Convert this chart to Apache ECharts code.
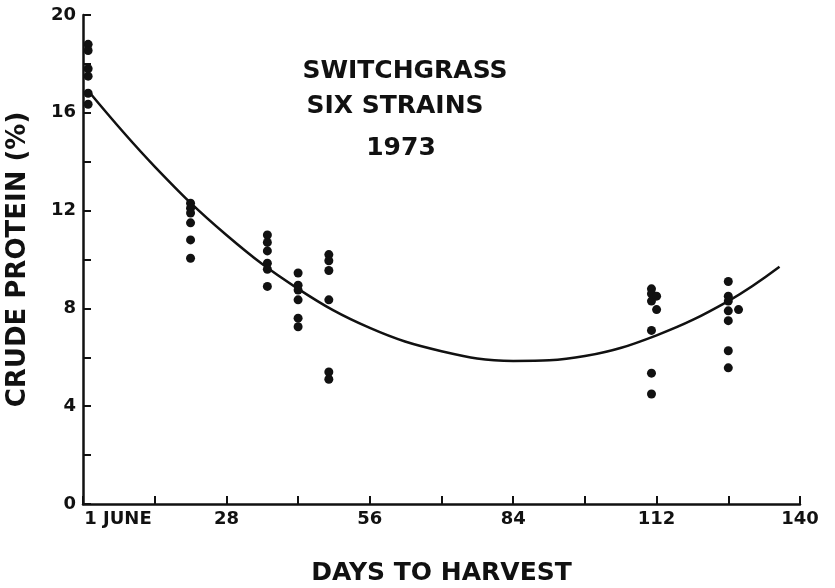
<!DOCTYPE html>
<html>
<head>
<meta charset="utf-8">
<script src="https://cdn.jsdelivr.net/npm/echarts@6/dist/echarts.min.js"></script>
<style>
  html, body { margin: 0; padding: 0; background: #fff; }
  #chart { width: 835px; height: 588px; }
</style>
</head>
<body>
<div id="chart"></div>
<script>
// days after 1 June, one entry per plotted strain value
const pointDays = [
  1, 1, 1, 1, 1, 1,
  21, 21, 21, 21, 21, 21,
  36, 36, 36, 36, 36, 36,
  42, 42, 42, 42, 42, 42,
  48, 48, 48, 48, 48, 48,
  111, 111, 111, 111, 111, 111, 112, 112,
  126, 126, 126, 126, 126, 126, 126, 128
];
const pointProtein = [
  18.8, 18.55, 17.8, 17.5, 16.8, 16.35,
  12.3, 12.1, 11.9, 11.5, 10.8, 10.05,
  11.0, 10.7, 10.35, 9.85, 9.6, 8.9,
  9.45, 8.95, 8.75, 8.35, 7.6, 7.25,
  10.2, 9.95, 9.55, 8.35, 5.4, 5.1,
  8.8, 8.6, 8.3, 7.1, 5.35, 4.5, 8.5, 7.95,
  9.1, 8.5, 8.3, 7.9, 7.5, 6.27, 5.57, 7.95
];
// fitted curve
const curveDays = [1, 14, 28, 42, 56, 70, 84, 98, 112, 126, 136];
const curveProtein = [16.9, 13.8, 11.0, 8.8, 7.2, 6.25, 5.85, 6.05, 6.9, 8.3, 9.7];

const xLabels = { 0: "1 JUNE", 28: "28", 56: "56", 84: "84", 112: "112", 140: "140" };
const yLabels = [0, 4, 8, 12, 16, 20];
const titleLines = ["SWITCHGRASS", "SIX STRAINS", "1973"];

const font = "DejaVu Sans";
const ink = "#111";
const chart = echarts.init(document.getElementById("chart"));

chart.setOption({
  backgroundColor: "#fff",
  animation: false,
  title: [
    { text: titleLines[0], left: 400, top: 54, textAlign: "center" },
    { text: titleLines[1], left: 390, top: 89, textAlign: "center" },
    { text: titleLines[2], left: 396, top: 131, textAlign: "center" }
  ].map(t => Object.assign(t, {
    textStyle: { fontFamily: font, fontSize: 25, fontWeight: "bold", color: ink }
  })),
  grid: { left: 83, right: 35, top: 15, bottom: 84, outerBoundsMode: "none", containLabel: false },
  xAxis: {
    type: "value",
    min: 0,
    max: 140,
    interval: 14,
    name: "DAYS TO HARVEST",
    nameLocation: "middle",
    nameGap: 57,
    nameTextStyle: { fontFamily: font, fontSize: 25, fontWeight: "bold", color: ink },
    splitLine: { show: false },
    axisLine: { lineStyle: { color: ink, width: 2.5 } },
    axisTick: { inside: true, length: 8, lineStyle: { color: ink, width: 2 } },
    axisLabel: {
      color: ink,
      fontFamily: font,
      fontSize: 18,
      fontWeight: "bold",
      margin: 6,
      formatter: v => v === 0 ? "{first|" + xLabels[0] + "}" : (xLabels[v] || ""),
      rich: { first: { fontFamily: font, fontSize: 18, fontWeight: "bold", color: ink, padding: [0, 0, 0, 70] } }
    }
  },
  yAxis: {
    type: "value",
    min: 0,
    max: 20,
    interval: 2,
    name: "CRUDE PROTEIN (%)",
    nameLocation: "middle",
    nameGap: 52,
    nameRotate: 90,
    nameTextStyle: { fontFamily: font, fontSize: 26, fontWeight: "bold", color: ink },
    splitLine: { show: false },
    axisLine: { lineStyle: { color: ink, width: 2.5 } },
    axisTick: { inside: true, length: 8, lineStyle: { color: ink, width: 2 } },
    axisLabel: {
      color: ink,
      fontFamily: font,
      fontSize: 18,
      fontWeight: "bold",
      margin: 7,
      formatter: v => yLabels.includes(v) ? String(v) : ""
    }
  },
  series: [
    {
      type: "line",
      data: curveDays.map((d, i) => [d, curveProtein[i]]),
      smooth: 0.4,
      showSymbol: false,
      lineStyle: { color: ink, width: 2.5 },
      z: 2
    },
    {
      type: "scatter",
      data: pointDays.map((d, i) => [d, pointProtein[i]]),
      symbolSize: 9,
      itemStyle: { color: ink, opacity: 1 },
      z: 3
    }
  ]
});
</script>
</body>
</html>
